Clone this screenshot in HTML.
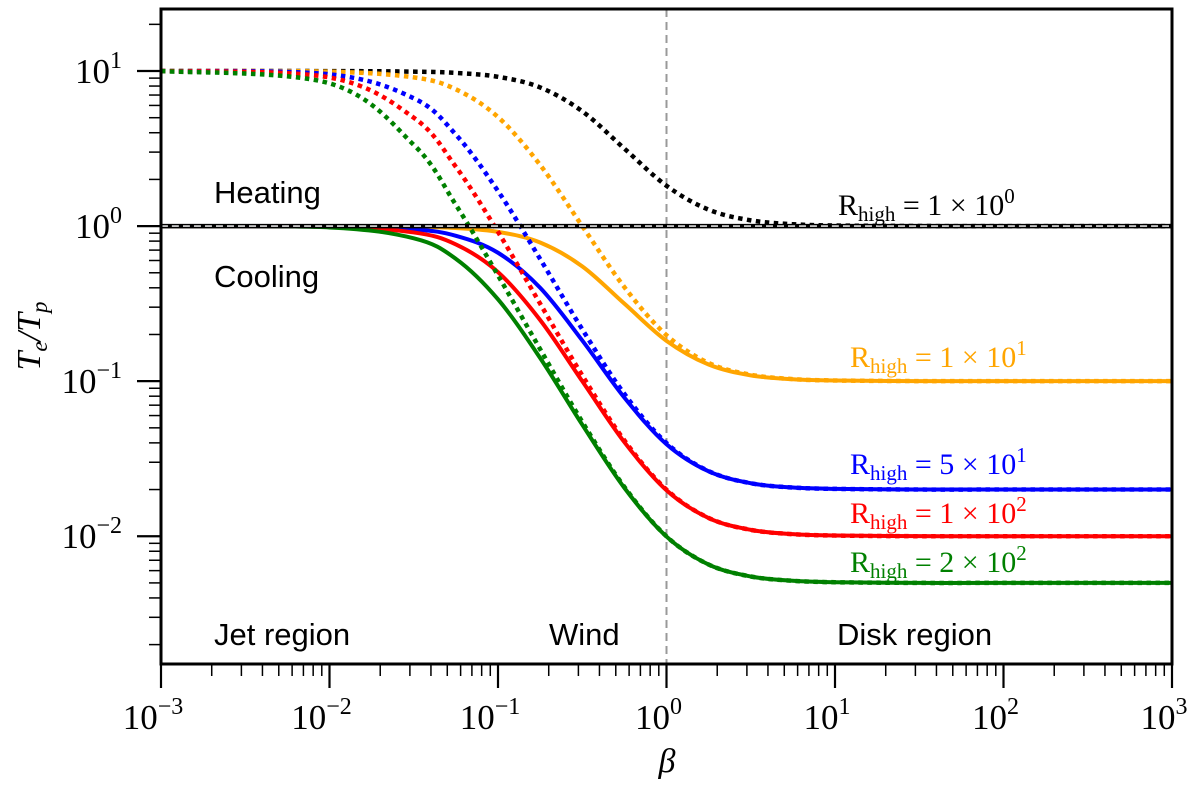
<!DOCTYPE html>
<html><head><meta charset="utf-8"><style>
body{margin:0;background:#fff;}
svg text{font-family:"Liberation Serif",serif;}
</style></head><body>
<svg id="chart" width="1200" height="782" xmlns="http://www.w3.org/2000/svg">
<g id="plot"></g>
</svg>
<script>
const logBeta = [-3,-2,-1.5,-1.25,-1,-0.75,-0.5,-0.25,0,0.25,0.5,0.75,1,1.5,2,3];
const solidR1   = [1,1,1,1,1,1,1,1,1,1,1,1,1,1,1,1];
const solidR10  = [1,0.9991,0.991,0.972,0.918,0.784,0.55,0.316,0.182,0.128,0.109,0.1028,0.1009,0.1001,0.1,0.1];
const solidR50  = [1,0.995,0.953,0.866,0.673,0.400,0.183,0.0783,0.0392,0.0262,0.02196,0.0206,0.0202,0.02002,0.02,0.02];
const solidR100 = [1,0.990,0.910,0.762,0.505,0.248,0.1,0.0404,0.0198,0.0131,0.01099,0.01031,0.0101,0.01001,0.01,0.01];
const solidR200 = [1,0.980,0.834,0.615,0.337,0.141,0.0524,0.0205,0.00995,0.00657,0.0055,0.00516,0.00505,0.005,0.005,0.005];
const dotR1   = [10,9.99,9.91,9.72,9.18,7.84,5.5,3.16,1.82,1.276,1.089,1.028,1.009,1.001,1,1];
const dotR10  = [10,9.90,9.10,7.62,5.05,2.48,1.0,0.404,0.198,0.131,0.110,0.1031,0.1010,0.1001,0.1,0.1];
const dotR50  = [10,9.52,6.67,3.89,1.683,0.614,0.216,0.0828,0.0399,0.0263,0.02197,0.0206,0.0202,0.02,0.02,0.02];
const dotR100 = [10,9.09,5.0,2.41,0.918,0.316,0.109,0.0415,0.01998,0.01312,0.01099,0.01031,0.0101,0.01,0.01,0.01];
const dotR200 = [10,8.33,3.34,1.37,0.481,0.161,0.0547,0.0208,0.00998,0.00657,0.0055,0.00516,0.00505,0.005,0.005,0.005];
const xTickExp = [-3,-2,-1,0,1,2,3];
const yTickExp = [1,0,-1,-2];
const rLabels = ["1 × 10","1 × 10","5 × 10","1 × 10","2 × 10"];
const rExps = ["0","1","1","2","2"];

const NS="http://www.w3.org/2000/svg";
const g=document.getElementById('plot');
const X0=161,X1=1172,Y0=9,Y1=664;
const xmin=-3,xmax=3,ymin=-2.824,ymax=1.40;
function xs(lb){return X0+(lb-xmin)/(xmax-xmin)*(X1-X0);}
function ys(v){return Y1-(Math.log10(v)-ymin)/(ymax-ymin)*(Y1-Y0);}
function mk(tag,attrs,parent){const e=document.createElementNS(NS,tag);for(const k in attrs)e.setAttribute(k,attrs[k]);(parent||g).appendChild(e);return e;}

const clip=mk('clipPath',{id:'cp'});mk('rect',{x:X0,y:Y0,width:X1-X0,height:Y1-Y0},clip);
const series=mk('g',{'clip-path':'url(#cp)'});

function pathD(vals){
  const p=logBeta.map((lb,i)=>[xs(lb),ys(vals[i])]);
  let d='M'+p[0][0]+','+p[0][1];
  for(let i=0;i<p.length-1;i++){
    const p0=p[Math.max(0,i-1)],p1=p[i],p2=p[i+1],p3=p[Math.min(p.length-1,i+2)];
    const t1=[(p2[0]-p0[0])/6,(p2[1]-p0[1])/6],t2=[(p3[0]-p1[0])/6,(p3[1]-p1[1])/6];
    d+=' C'+(p1[0]+t1[0])+','+(p1[1]+t1[1])+' '+(p2[0]-t2[0])+','+(p2[1]-t2[1])+' '+p2[0]+','+p2[1];
  }
  return d;
}
let e=mk('line',{x1:xs(0),x2:xs(0),y1:Y0,y2:Y1,stroke:'#999','stroke-width':2,'stroke-dasharray':'8,5'},series);



const solids=[[solidR10,'orange','solid-r10'],[solidR50,'blue','solid-r50'],[solidR100,'red','solid-r100'],[solidR200,'green','solid-r200']];
solids.forEach(s=>{
  const el=mk('path',{d:pathD(s[0]),fill:'none',stroke:s[1],'stroke-width':4},series);
  
  
});
const dots=[[dotR1,'black','dotted-r1'],[dotR10,'orange','dotted-r10'],[dotR50,'blue','dotted-r50'],[dotR100,'red','dotted-r100'],[dotR200,'green','dotted-r200']];
dots.forEach(s=>{
  const el=mk('path',{d:pathD(s[0]),fill:'none',stroke:s[1],'stroke-width':4.5,'stroke-dasharray':'4.5,4.5'},series);
  
  
});
e=mk('path',{d:pathD(solidR1),fill:'none',stroke:'black','stroke-width':4.5},series);


mk('path',{d:pathD(solidR1),fill:'none',stroke:'#ddd','stroke-width':1.6,'stroke-dasharray':'7,4'},series);

e=mk('rect',{x:X0,y:Y0,width:X1-X0,height:Y1-Y0,fill:'none',stroke:'black','stroke-width':3});


for(let d=-3;d<3;d++){for(let m=2;m<=9;m++){const x=xs(d+Math.log10(m));
  mk('line',{x1:x,x2:x,y1:Y1,y2:Y1+12,stroke:'black','stroke-width':1.5});}}
xTickExp.forEach(k=>{const x=xs(k);
  mk('line',{x1:x,x2:x,y1:Y1,y2:Y1+24,stroke:'black','stroke-width':2.2});
  const t=mk('text',{x:x-8,y:729,'font-size':35,'text-anchor':'middle'});
  
  
  t.innerHTML='10<tspan dy="-15" font-size="24">'+(k<0?'−'+(-k):k)+'</tspan>';
});
for(let d=-3;d<2;d++){for(let m=2;m<=9;m++){const v=Math.pow(10,d)*m;const y=ys(v);if(y<Y0||y>Y1)continue;
  mk('line',{x1:X0,x2:X0-12,y1:y,y2:y,stroke:'black','stroke-width':1.5});}}
yTickExp.forEach(k=>{const y=ys(Math.pow(10,k));
  mk('line',{x1:X0,x2:X0-24,y1:y,y2:y,stroke:'black','stroke-width':2.2});
  const t=mk('text',{x:122,y:y+12,'font-size':35,'text-anchor':'end'});
  
  
  t.innerHTML='10<tspan dy="-15" font-size="24">'+(k<0?'−'+(-k):k)+'</tspan>';
});
e=mk('text',{x:667,y:772,'font-size':34,'font-style':'italic','text-anchor':'middle'});e.textContent='β';


e=mk('text',{x:0,y:0,'font-size':34,'font-style':'italic','text-anchor':'middle',transform:'translate(40,336) rotate(-90)'});
e.innerHTML='T<tspan font-size="23" dy="7">e</tspan><tspan dy="-7">/T</tspan><tspan font-size="23" dy="7">p</tspan>';


[['Heating',214,203,'heating-label'],['Cooling',214,287,'cooling-label'],['Jet region',214,645,'jet-region-label'],['Wind',549,645,'wind-label'],['Disk region',837,645,'disk-region-label']].forEach(r=>{
  const t=mk('text',{x:r[1],y:r[2],'font-size':31,style:'font-family:"Liberation Sans",sans-serif'});t.textContent=r[0];
  
  
});
const rPos=[[838,215,'black'],[850,367,'orange'],[850,474,'blue'],[850,523,'red'],[850,572,'green']];
rPos.forEach((p,i)=>{
  const t=mk('text',{x:p[0],y:p[1],'font-size':30,fill:p[2]});
  t.innerHTML='R<tspan font-size="21" dy="6">high</tspan><tspan dy="-6"> = '+rLabels[i]+'</tspan><tspan font-size="21" dy="-12">'+rExps[i]+'</tspan>';
  
  
});
</script>
</body></html>
